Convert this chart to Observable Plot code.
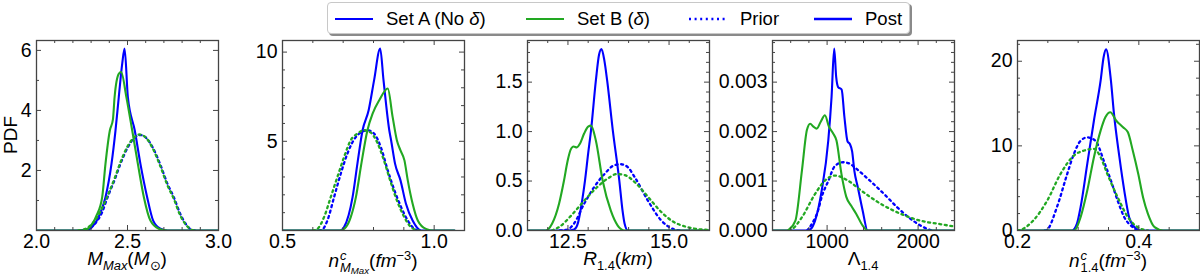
<!DOCTYPE html>
<html><head><meta charset="utf-8">
<script src="https://cdn.jsdelivr.net/npm/d3@7"></script>
<script src="https://cdn.jsdelivr.net/npm/@observablehq/plot@0.6"></script>
<style>
body{margin:0;background:#fff;}
#chart{position:relative;width:1200px;height:277px;overflow:hidden;font-family:"Liberation Sans",Arial,sans-serif;color:#000;}
.panel{position:absolute;top:0;}
.xlabel{position:absolute;top:250px;font-size:19px;line-height:18px;white-space:nowrap;transform:translateX(-50%);}
.xlabel sub,.xlabel sup{font-size:0.68em;line-height:0;}
.ss{display:inline-flex;flex-direction:column;font-size:0.68em;line-height:0.95em;vertical-align:0.55em;margin-left:1px;}
.ss .sb2{font-size:0.75em;vertical-align:-0.2em;}
#ylab{position:absolute;left:10px;top:135px;font-size:19px;line-height:19px;transform:translate(-50%,-50%) rotate(-90deg);}
#legend{position:absolute;left:327px;top:2px;width:583px;height:32px;border:1px solid #c8c8c8;border-radius:4px;background:#fff;box-shadow:2px 2px 0 #8a8a8a;box-sizing:border-box;font-size:18.5px;}
#legend .it{position:absolute;top:5px;white-space:nowrap;}
#legend svg{position:absolute;top:13px;}
</style>
</head><body>
<div id="chart"></div>
<script>
// ---------- data: panel 1, M_Max ----------
const mmaxPostA = [[2.0,0],[2.27,0],[2.31,0.15],[2.345,0.5],[2.379,1.11],[2.412,2.22],[2.434,3.33],[2.452,4.44],[2.471,5.56],[2.484,6.06],[2.502,4.44],[2.54,3.33],[2.571,2.22],[2.608,1.11],[2.641,0.33],[2.681,0.06],[2.72,0],[3.0,0]];
const mmaxPostB = [[2.0,0],[2.26,0],[2.29,0.1],[2.33,0.5],[2.361,1.11],[2.379,2.22],[2.403,3.33],[2.42,3.7],[2.429,4.44],[2.452,5.22],[2.465,5.28],[2.494,4.44],[2.526,3.33],[2.557,2.22],[2.59,1.11],[2.626,0.33],[2.672,0.06],[2.72,0],[3.0,0]];
const mmaxPriorA = [[2.24,0],[2.28,0.05],[2.32,0.22],[2.36,0.6],[2.39,1.1],[2.43,1.7],[2.46,2.2],[2.50,2.75],[2.54,3.1],[2.57,3.18],[2.60,3.1],[2.64,2.75],[2.68,2.2],[2.72,1.55],[2.755,1.1],[2.79,0.55],[2.82,0.22],[2.85,0.03],[2.87,0]];
const mmaxPriorB = [[2.23,0],[2.27,0.06],[2.31,0.25],[2.35,0.62],[2.39,1.15],[2.43,1.75],[2.46,2.25],[2.50,2.8],[2.54,3.12],[2.565,3.2],[2.60,3.1],[2.64,2.72],[2.68,2.15],[2.72,1.5],[2.755,1.05],[2.79,0.5],[2.82,0.2],[2.85,0.03],[2.87,0]];
// ---------- panel 2, n^c_{M_Max} ----------
const ncmPostA = [[0.5,0],[0.69,0],[0.703,0.19],[0.731,1.87],[0.747,3.75],[0.764,5.62],[0.784,6.74],[0.802,8.43],[0.822,10.2],[0.833,8.43],[0.852,5.62],[0.858,5.06],[0.871,3.75],[0.889,2.81],[0.907,1.5],[0.929,0.56],[0.957,0],[1.067,0]];
const ncmPostB = [[0.5,0],[0.69,0],[0.709,0.19],[0.725,0.75],[0.742,1.87],[0.760,3.75],[0.780,5.62],[0.797,6.55],[0.819,7.3],[0.847,7.96],[0.863,6.37],[0.877,5.06],[0.889,4.49],[0.902,3.93],[0.913,2.81],[0.929,1.5],[0.946,0.56],[0.973,0.09],[0.999,0],[1.067,0]];
const ncmPriorA = [[0.62,0],[0.631,0.05],[0.648,0.56],[0.670,1.87],[0.692,3.18],[0.714,4.31],[0.742,5.24],[0.78,5.62],[0.802,5.43],[0.824,4.68],[0.847,3.37],[0.869,2.25],[0.891,1.31],[0.913,0.56],[0.935,0.09],[0.945,0]];
const ncmPriorB = [[0.6,0],[0.615,0.09],[0.637,0.75],[0.659,1.87],[0.681,3.0],[0.703,4.12],[0.725,5.06],[0.747,5.43],[0.769,5.62],[0.79,5.5],[0.812,4.95],[0.835,3.9],[0.857,2.7],[0.879,1.6],[0.9,0.8],[0.92,0.25],[0.94,0.03],[0.95,0]];
// ---------- panel 3, R_1.4 ----------
const rPostA = [[11.5,0],[12.5,0],[12.65,0.01],[12.75,0.08],[12.85,0.3],[12.92,0.5],[13.0,0.78],[13.07,1.01],[13.19,1.515],[13.27,1.78],[13.33,1.835],[13.4,1.72],[13.47,1.515],[13.61,1.01],[13.77,0.505],[13.85,0.2],[13.9,0.07],[13.98,0],[16,0]];
const rPostB = [[11.5,0],[11.95,0],[12.11,0.07],[12.28,0.27],[12.40,0.5],[12.49,0.7],[12.57,0.82],[12.64,0.85],[12.72,0.84],[12.80,0.88],[12.90,0.98],[13.0,1.05],[13.07,1.06],[13.19,0.91],[13.36,0.5],[13.56,0.2],[13.73,0.05],[13.90,0],[16,0]];
const rPriorA = [[12.3,0],[12.49,0.01],[12.65,0.07],[12.9,0.27],[13.15,0.44],[13.4,0.57],[13.65,0.66],[13.81,0.67],[13.98,0.64],[14.15,0.54],[14.48,0.3],[14.81,0.1],[15.14,0.01],[15.3,0]];
const rPriorB = [[12.1,0],[12.3,0.04],[12.6,0.16],[12.9,0.3],[13.2,0.43],[13.5,0.53],[13.7,0.57],[13.9,0.56],[14.2,0.47],[14.5,0.33],[14.8,0.19],[15.1,0.09],[15.4,0.04],[15.7,0.015],[16.0,0.005]];
// ---------- panel 4, Lambda_1.4 ----------
const lamPostA = [[400,0],[780,0],[814,0.00002],[868,0.0002],[941,0.00081],[1013,0.00182],[1049,0.0027],[1078,0.00368],[1100,0.0031],[1121,0.0029],[1160,0.00285],[1190,0.0023],[1225,0.0018],[1250,0.00175],[1275,0.0016],[1300,0.0012],[1337,0.00088],[1391,0.0004],[1445,0],[2400,0]];
const lamPostB = [[400,0],[560,0],[581,0.00002],[652,0.0002],[724,0.00122],[778,0.00203],[814,0.00216],[850,0.0021],[886,0.00206],[930,0.0022],[976,0.00233],[1020,0.0021],[1067,0.00196],[1103,0.00182],[1157,0.00115],[1211,0.00068],[1265,0.0005],[1319,0.00034],[1391,0.0001],[1445,0],[2400,0]];
const lamPriorA = [[780,0],[832,0.00013],[900,0.0004],[941,0.00068],[1013,0.001],[1084,0.0013],[1175,0.00138],[1250,0.00135],[1301,0.00128],[1445,0.00105],[1625,0.00074],[1770,0.00047],[1914,0.00024],[2057,0.00007],[2150,0]];
const lamPriorB = [[580,0],[617,0.00003],[724,0.00027],[868,0.00074],[976,0.00101],[1084,0.00111],[1229,0.00101],[1373,0.00081],[1589,0.00054],[1805,0.00034],[2022,0.0002],[2238,0.00013],[2400,0.00008]];
// ---------- panel 5, n^c_1.4 ----------
const nc14PostA = [[0.2,0],[0.29,0],[0.298,0.8],[0.304,2.76],[0.315,7.87],[0.326,13],[0.337,17.7],[0.342,20.5],[0.346,21.4],[0.354,17.7],[0.359,13.8],[0.368,8.66],[0.376,4.72],[0.384,1.57],[0.393,0.39],[0.404,0],[0.5,0]];
const nc14PostB = [[0.2,0],[0.293,0],[0.304,1.57],[0.315,4.72],[0.326,8.66],[0.337,11.8],[0.345,13.4],[0.353,13.98],[0.3625,13.0],[0.374,12.2],[0.382,11.6],[0.39,9.45],[0.399,6.7],[0.407,3.9],[0.415,1.97],[0.426,0.39],[0.44,0],[0.5,0]];
const nc14PriorA = [[0.245,0],[0.249,0.1],[0.265,2.76],[0.282,6.7],[0.293,9.06],[0.304,10.6],[0.315,11.0],[0.325,10.8],[0.332,10.2],[0.342,8.27],[0.354,5.9],[0.365,3.54],[0.376,1.57],[0.39,0.39],[0.398,0]];
const nc14PriorB = [[0.2,0],[0.204,0.05],[0.226,1.18],[0.249,3.54],[0.271,6.7],[0.293,8.86],[0.31,9.45],[0.326,9.65],[0.337,8.66],[0.348,6.7],[0.365,3.94],[0.382,1.57],[0.398,0.39],[0.415,0]];

// ---------- tick labels ----------
const xLabels = [[2.0,2.5,3.0],[0.5,1.0],[12.5,15.0],[1000,2000],[0.2,0.4]];
const yLabels = [[2,4,6],[5,10],[0,0.5,1.0,1.5],[0,0.001,0.002,0.003],[0,10,20]];
const xMinorStep = [0.1,0.1,0.5,200,0.05];
const yMinorStep = [1,1,0.1,0.0002,2];
const xDomains = [[2,3],[0.5,1.1],[11.5,16],[400,2400],[0.2,0.5]];
const yDomains = [[0,6.33],[0,10.65],[0,1.921],[0,0.003842],[0,22.45]];
const xFormats = [".1f",".1f",".1f","d",".1f"];
const yFormats = ["d","d",".1f",".3f","d"];
const frameLefts = [36,282,527,772,1017];
const series = [
  [mmaxPriorA,mmaxPostA,mmaxPriorB,mmaxPostB],
  [ncmPriorA,ncmPostA,ncmPriorB,ncmPostB],
  [rPriorA,rPostA,rPriorB,rPostB],
  [lamPriorA,lamPostA,lamPriorB,lamPostB],
  [nc14PriorA,nc14PostA,nc14PriorB,nc14PostB]
];
const BLUE = "#0000ff", GREEN = "#22a822", AX = "#444";
const DOTS = "2,3.6";

const chart = document.getElementById("chart");
const ML = 72, MR = 3, FW = 182, FH = 190;

function range(dom, step){
  const out = [];
  const start = Math.ceil(dom[0]/step - 1e-9);
  for (let k = start; k*step <= dom[1] + 1e-9; k++) out.push(+(k*step).toPrecision(10));
  return out;
}

for (let i = 0; i < 5; i++) {
  const [pA, qA, pB, qB] = series[i];
  const xMin = range(xDomains[i], xMinorStep[i]).filter(v => !xLabels[i].some(l => Math.abs(l - v) < 1e-9));
  const yMin = range(yDomains[i], yMinorStep[i]).filter(v => !yLabels[i].some(l => Math.abs(l - v) < 1e-12));
  const xMaj = xLabels[i], yMaj = yLabels[i];
  const line = (data, color, dotted) => Plot.line(data, {
    x: d => d[0], y: d => d[1], stroke: color, strokeWidth: dotted ? 2.3 : 2.1,
    strokeDasharray: dotted ? DOTS : null, curve: "monotone-x", clip: true
  });
  const svg = Plot.plot({
    width: ML + FW + MR, height: 277,
    marginLeft: ML, marginRight: MR, marginTop: 40, marginBottom: 47,
    x: {domain: xDomains[i]}, y: {domain: yDomains[i]},
    style: {fontFamily: '"Liberation Sans", Arial, sans-serif', fontSize: "19.5px", background: "transparent", overflow: "visible", color: "#000"},
    marks: [
      line(pA, BLUE, true),
      line(qA, BLUE, false),
      line(pB, GREEN, true),
      line(qB, GREEN, false),
      Plot.frame({stroke: AX, strokeWidth: 1.3}),
      Plot.tickX(xMaj, {x: d => d, insetTop: FH - 5, stroke: AX}),
      Plot.tickX(xMaj, {x: d => d, insetBottom: FH - 5, stroke: AX}),
      Plot.tickX(xMin, {x: d => d, insetTop: FH - 3, stroke: AX}),
      Plot.tickX(xMin, {x: d => d, insetBottom: FH - 3, stroke: AX}),
      Plot.tickY(yMaj, {y: d => d, insetRight: FW - 5, stroke: AX}),
      Plot.tickY(yMaj, {y: d => d, insetLeft: FW - 5, stroke: AX}),
      Plot.tickY(yMin, {y: d => d, insetRight: FW - 3, stroke: AX}),
      Plot.tickY(yMin, {y: d => d, insetLeft: FW - 3, stroke: AX}),
      Plot.axisX({ticks: xMaj, tickSize: 0, tickPadding: 4, tickFormat: d3.format(xFormats[i]), label: null}),
      Plot.axisY({ticks: yMaj, tickSize: 0, tickPadding: 5, tickFormat: d3.format(yFormats[i]), label: null})
    ]
  });
  svg.classList.add("panel");
  svg.style.left = (frameLefts[i] - ML) + "px";
  chart.appendChild(svg);
}

// axis titles
const xTitles = [
  '<i>M</i><sub><i>Max</i></sub>(<i>M</i><sub>⊙</sub>)',
  '<i>n</i><span class="ss"><span><i>c</i></span><span><i>M</i><span class="sb2"><i>Max</i></span></span></span>(<i>fm</i><sup>−3</sup>)',
  '<i>R</i><sub>1.4</sub>(<i>km</i>)',
  'Λ<sub>1.4</sub>',
  '<i>n</i><span class="ss"><span><i>c</i></span><span>1.4</span></span>(<i>fm</i><sup>−3</sup>)'
];
xTitles.forEach((t, i) => {
  const d = document.createElement("div");
  d.className = "xlabel";
  d.style.left = (frameLefts[i] + FW / 2) + "px";
  d.innerHTML = t;
  chart.appendChild(d);
});
const yl = document.createElement("div");
yl.id = "ylab"; yl.textContent = "PDF";
chart.appendChild(yl);

// legend
const legendItems = [
  {label: 'Set A (No <i>δ</i>)', color: BLUE, dotted: false, w: 2, x: 7, tx: 58},
  {label: 'Set B (<i>δ</i>)', color: GREEN, dotted: false, w: 2, x: 198, tx: 249},
  {label: 'Prior', color: BLUE, dotted: true, w: 2.3, x: 361, tx: 412},
  {label: 'Post', color: BLUE, dotted: false, w: 2.6, x: 486, tx: 537}
];
const lg = document.createElement("div");
lg.id = "legend";
legendItems.forEach(it => {
  const s = document.createElementNS("http://www.w3.org/2000/svg", "svg");
  s.setAttribute("width", 38); s.setAttribute("height", 6);
  s.style.left = it.x + "px";
  const l = document.createElementNS("http://www.w3.org/2000/svg", "line");
  l.setAttribute("x1", 0); l.setAttribute("x2", 38); l.setAttribute("y1", 3); l.setAttribute("y2", 3);
  l.setAttribute("stroke", it.color); l.setAttribute("stroke-width", it.w);
  if (it.dotted) l.setAttribute("stroke-dasharray", DOTS);
  s.appendChild(l);
  lg.appendChild(s);
  const t = document.createElement("span");
  t.className = "it"; t.style.left = it.tx + "px"; t.innerHTML = it.label;
  lg.appendChild(t);
});
chart.appendChild(lg);
</script>
</body></html>
